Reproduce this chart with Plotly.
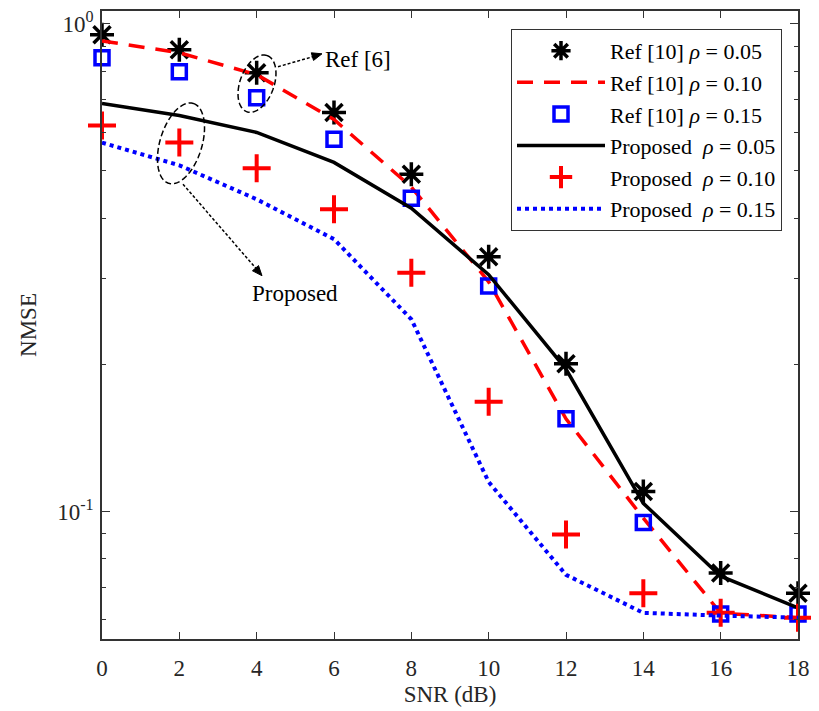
import numpy as np
import plotly.graph_objects as go

snr = [0, 2, 4, 6, 8, 10, 12, 14, 16, 18]

ref_005 = [0.95, 0.885, 0.794, 0.658, 0.492, 0.333, 0.201, 0.110, 0.0748, 0.0680]
ref_010 = [0.923, 0.873, 0.787, 0.637, 0.463, 0.296, 0.155, 0.097, 0.0619, 0.0606]
ref_015 = [0.852, 0.798, 0.706, 0.580, 0.439, 0.290, 0.155, 0.095, 0.0617, 0.0617]
prop_005 = [0.687, 0.649, 0.599, 0.520, 0.419, 0.306, 0.196, 0.104, 0.0737, 0.0635]
prop_010 = [0.619, 0.571, 0.506, 0.417, 0.309, 0.168, 0.0898, 0.068, 0.062, 0.0606]
prop_015 = [0.571, 0.513, 0.437, 0.362, 0.248, 0.115, 0.0742, 0.0620, 0.0612, 0.0606]

names = ["Ref [10] <i>ρ</i> = 0.05", "Ref [10] <i>ρ</i> = 0.10", "Ref [10] <i>ρ</i> = 0.15",
         "Proposed  <i>ρ</i> = 0.05", "Proposed  <i>ρ</i> = 0.10", "Proposed  <i>ρ</i> = 0.15"]

FONT = "Liberation Serif, Times New Roman, serif"
TXT = "#262626"

fig = go.Figure()
fig.add_trace(go.Scatter(x=snr, y=ref_005, mode="markers", name=names[0], cliponaxis=False,
                         marker=dict(symbol="asterisk-open", size=20, color="black",
                                     line=dict(width=3.5, color="black"))))
fig.add_trace(go.Scatter(x=snr, y=ref_010, mode="lines", name=names[1],
                         line=dict(color="#ff0000", width=3.5, dash="16px,11px")))
fig.add_trace(go.Scatter(x=snr, y=ref_015, mode="markers", name=names[2], cliponaxis=False,
                         marker=dict(symbol="square-open", size=14, color="#0000ff",
                                     line=dict(width=3.5, color="#0000ff"))))
fig.add_trace(go.Scatter(x=snr, y=prop_005, mode="lines", name=names[3],
                         line=dict(color="black", width=3.5)))
fig.add_trace(go.Scatter(x=snr, y=prop_010, mode="markers", name=names[4], cliponaxis=False,
                         marker=dict(symbol="cross-thin-open", size=20, color="#ff0000",
                                     line=dict(width=4, color="#ff0000"))))
fig.add_trace(go.Scatter(x=snr, y=prop_015, mode="lines", name=names[5],
                         line=dict(color="#0000ff", width=4, dash="4px,4px")))

# Page offset of the figure (browser body margin) and plot-area geometry in page pixels
OFF = 8
W, H = 819 - OFF, 711 - OFF
L, R, T, B = 102, 798, 8, 639

def px(x):
    return (x - L) / (R - L)

def py(y):
    return (B - y) / (B - T)

def ellipse_path(cx, cy, a, b, lean_deg, n=72):
    # a: semi-major axis, leaning lean_deg from vertical (top to the right)
    t = np.linspace(0, 2 * np.pi, n)
    ph = np.deg2rad(lean_deg)
    mj = np.array([np.sin(ph), -np.cos(ph)])
    mn = np.array([np.cos(ph), np.sin(ph)])
    xs = cx + a * np.cos(t) * mj[0] + b * np.sin(t) * mn[0]
    ys = cy + a * np.cos(t) * mj[1] + b * np.sin(t) * mn[1]
    pts = [f"{px(xx):.5f},{py(yy):.5f}" for xx, yy in zip(xs, ys)]
    return "M " + " L ".join(pts) + " Z"

def arrow_head(x0, y0, x1, y1, length=10, half=4):
    d = np.array([x1 - x0, y1 - y0], dtype=float)
    d /= np.hypot(*d)
    n = np.array([-d[1], d[0]])
    base = np.array([x1, y1]) - length * d
    p1 = base + half * n
    p2 = base - half * n
    return (f"M {px(x1):.5f},{py(y1):.5f} L {px(p1[0]):.5f},{py(p1[1]):.5f} "
            f"L {px(p2[0]):.5f},{py(p2[1]):.5f} Z")

arr1 = (278, 64, 322, 51)
arr2 = (183, 182, 262, 274)

shapes = [
    dict(type="path", xref="paper", yref="paper", layer="above",
         path=ellipse_path(257, 81, 30, 17, 20), line=dict(color="black", width=1.5, dash="6px,3px")),
    dict(type="path", xref="paper", yref="paper", layer="above",
         path=ellipse_path(181, 141, 42, 21, 17), line=dict(color="black", width=1.5, dash="6px,3px")),
    dict(type="line", xref="paper", yref="paper", x0=px(arr1[0]), y0=py(arr1[1]),
         x1=px(arr1[2] - 6), y1=py(arr1[3] + 2), line=dict(color="black", width=1.5, dash="3px,2px")),
    dict(type="line", xref="paper", yref="paper", x0=px(arr2[0]), y0=py(arr2[1]),
         x1=px(arr2[2] - 4), y1=py(arr2[3] - 5), line=dict(color="black", width=1.5, dash="3px,2px")),
    dict(type="path", xref="paper", yref="paper", path=arrow_head(*arr1),
         fillcolor="black", line=dict(color="black", width=1)),
    dict(type="path", xref="paper", yref="paper", path=arrow_head(*arr2),
         fillcolor="black", line=dict(color="black", width=1)),
]

annotations = [
    dict(xref="paper", yref="paper", x=px(358), y=py(57), xanchor="center", yanchor="middle",
         text="Ref [6]", showarrow=False, font=dict(family=FONT, size=23, color="black")),
    dict(xref="paper", yref="paper", x=px(295), y=py(292), xanchor="center", yanchor="middle",
         text="Proposed", showarrow=False, font=dict(family=FONT, size=23, color="black")),
]

minor_vals = [0.06, 0.07, 0.08, 0.09, 0.2, 0.3, 0.4, 0.5, 0.6, 0.7, 0.8, 0.9]

fig.update_layout(
    width=W, height=H,
    margin=dict(l=L - OFF, r=W - (R - OFF), t=T - OFF, b=H - (B - OFF), pad=0),
    paper_bgcolor="white", plot_bgcolor="white",
    font=dict(family=FONT, size=23, color=TXT),
    showlegend=True,
    legend=dict(x=px(782), y=py(26), xanchor="right", yanchor="top", itemwidth=88,
                bgcolor="white", bordercolor="#333333", borderwidth=1,
                font=dict(family=FONT, size=22, color="black"), tracegroupgap=0),
    shapes=shapes, annotations=annotations,
    xaxis=dict(range=[0, 18], tickvals=snr, ticks="inside", ticklen=7, tickwidth=1.2,
               tickcolor="#333333", showline=True, linecolor="#333333", linewidth=1.5,
               mirror="allticks", showgrid=False, zeroline=False, ticklabelstandoff=8,
               ticklabeloverflow="allow",
               title=dict(text="SNR (dB)", font=dict(family=FONT, size=23, color=TXT), standoff=6),
               tickfont=dict(family=FONT, size=23, color=TXT)),
    yaxis=dict(type="log", range=[np.log10(0.0548), np.log10(1.063)],
               tickvals=[0.1, 1], ticktext=["10<sup>-1</sup>", "10<sup>0</sup>"],
               ticks="inside", ticklen=8, tickwidth=1.2, tickcolor="#333333",
               minor=dict(tickvals=minor_vals, ticks="inside", ticklen=4, tickcolor="#333333",
                          showgrid=False),
               showline=True, linecolor="#333333", linewidth=1.5, mirror="allticks",
               showgrid=False, zeroline=False, ticklabelstandoff=2, ticklabeloverflow="allow",
               title=dict(text="NMSE", font=dict(family=FONT, size=23, color=TXT), standoff=14),
               tickfont=dict(family=FONT, size=23, color=TXT)),
)

fig.write_html("out.html")
